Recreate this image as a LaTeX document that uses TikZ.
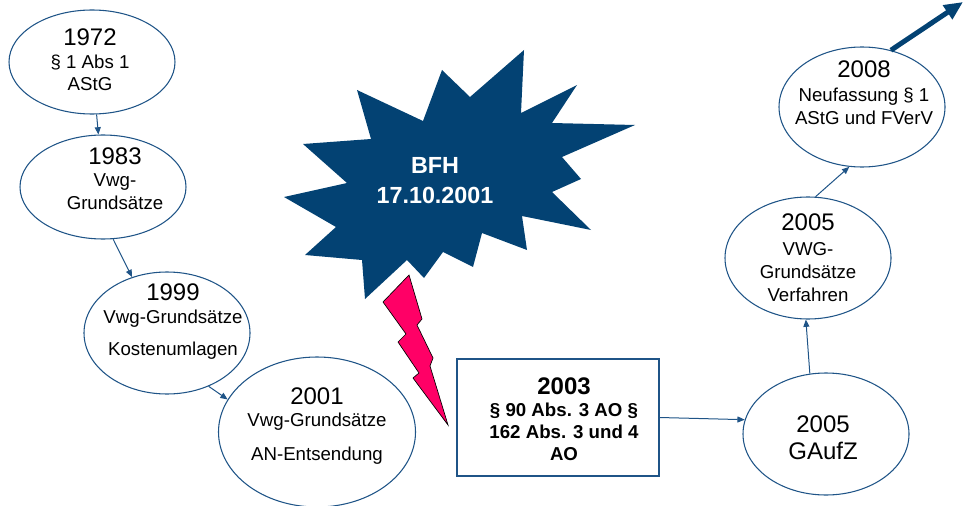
\documentclass[tikz,border=0pt]{standalone}
\usepackage{fontspec}
\setmainfont{Liberation Sans}
\usetikzlibrary{arrows.meta, shapes.geometric}

\definecolor{linieblau}{RGB}{31,84,135}
\definecolor{sternblau}{RGB}{3,66,115}
\definecolor{blitzrot}{RGB}{255,0,102}
\newcommand{\jahr}[1]{{\fontsize{18}{17}\selectfont #1}}

\begin{document}
\begin{tikzpicture}[x=0.75pt,y=-0.75pt]
  \tikzstyle{stufe}=[ellipse,draw=linieblau,line width=0.8pt,inner sep=0pt,minimum width=124.5pt,minimum height=91.5pt]
  \tikzstyle{klein}=[align=center,inner sep=0pt,font=\fontsize{14}{17}\selectfont]
  \tikzstyle{pfeil}=[-{Triangle[length=5.5pt,width=4.5pt]},linieblau,line width=0.75pt]

  \useasboundingbox (0,0) rectangle (974,506);

  % BFH star
  \fill[sternblau] (284,197) -- (347,183) -- (303,144) -- (371,139) -- (357,90) -- (423,121)
    -- (442,70) -- (470,97) -- (524,50) -- (521,113) -- (577,85) -- (552,123) -- (635,125)
    -- (562,157) -- (581,179) -- (552,192) -- (591,230) -- (522,216) -- (527,250) -- (482,233)
    -- (473,267) -- (443,252) -- (424,278) -- (407,260) -- (365,299) -- (362,260) -- (305,255)
    -- (336,227) -- cycle;
  \node[align=center,inner sep=0pt,text=white,font=\fontsize{17.5}{22}\selectfont\bfseries] (tbfh) at (435,180.5) {BFH\\17.10.2001};
  % Lightning
  \filldraw[fill=blitzrot,draw=black,line width=0.5pt] (409,275) -- (383,302) -- (406,334) -- (398,342)
    -- (419,373) -- (413,378) -- (448,425) -- (430,366) -- (433,358) -- (417,325) -- (422,319) -- cycle;

  % Left chain
  \node[stufe,minimum height=78pt] (e1972) at (92,62) {};
  \node[klein] (t1972) at (90,60) {\jahr{1972}\\\S\ 1 Abs 1\\AStG};
  \node[stufe,minimum height=78pt] (e1983) at (103,187) {};
  \node[klein] (t1983) at (115,178.5) {\jahr{1983}\\Vwg-\\Grundsätze};
  \node[stufe] (e1999) at (167,333) {};
  \node[klein] (t1999) at (173,321.5) {\jahr{1999}\\Vwg-Grundsätze\\[7pt]Kostenumlagen};
  \node[stufe,minimum width=147.75pt,minimum height=112.5pt] (e2001) at (317,432) {};
  \node[klein] (t2001) at (317,426.5) {\jahr{2001}\\[-1pt]Vwg-Grundsätze\\[9pt]AN-Entsendung};

  % 2003 box
  \node[draw=linieblau,line width=0.8pt,inner sep=0pt,minimum width=151.5pt,minimum height=87.75pt] (k2003) at (558,417.5) {};
  \node[klein,font=\fontsize{14}{16.5}\selectfont\bfseries] (t2003) at (564,419.5) {\jahr{2003}\\\S\ 90 Abs. 3 AO \S\\162 Abs. 3 und 4\\AO};

  % Right chain
  \node[stufe] (eGAufZ) at (826,434) {};
  \node[klein,font=\fontsize{18}{20}\selectfont] (tGAufZ) at (823,437.5) {2005\\GAufZ};
  \node[stufe] (e2005) at (808,258) {};
  \node[klein] (t2005) at (808,257.5) {\jahr{2005}\\[2pt]VWG-\\Grundsätze\\Verfahren};
  \node[stufe,minimum height=90pt] (e2008) at (862,107) {};
  \node[klein] (t2008) at (864,93) {\jahr{2008}\\[1pt]Neufassung \S\ 1\\AStG und FVerV};
  \coordinate (weiter) at (963,2);

  \draw[pfeil] (e1972.-85) -- (e1983.95);
  \draw[pfeil] (e1983.-79) -- (e1999.122);
  \draw[pfeil] (e1999.-52) -- (e2001.160);
  \draw[pfeil] (k2003.east) -- (eGAufZ.170);
  \draw[pfeil] (eGAufZ.105) -- (e2005.-92);
  \draw[pfeil] (e2005.83) -- (e2008.-102);
  \draw[-{Triangle[length=14pt,width=12pt]},sternblau,line width=3.75pt] (e2008.63) -- (weiter); % Thick arrow
\end{tikzpicture}
\end{document}
